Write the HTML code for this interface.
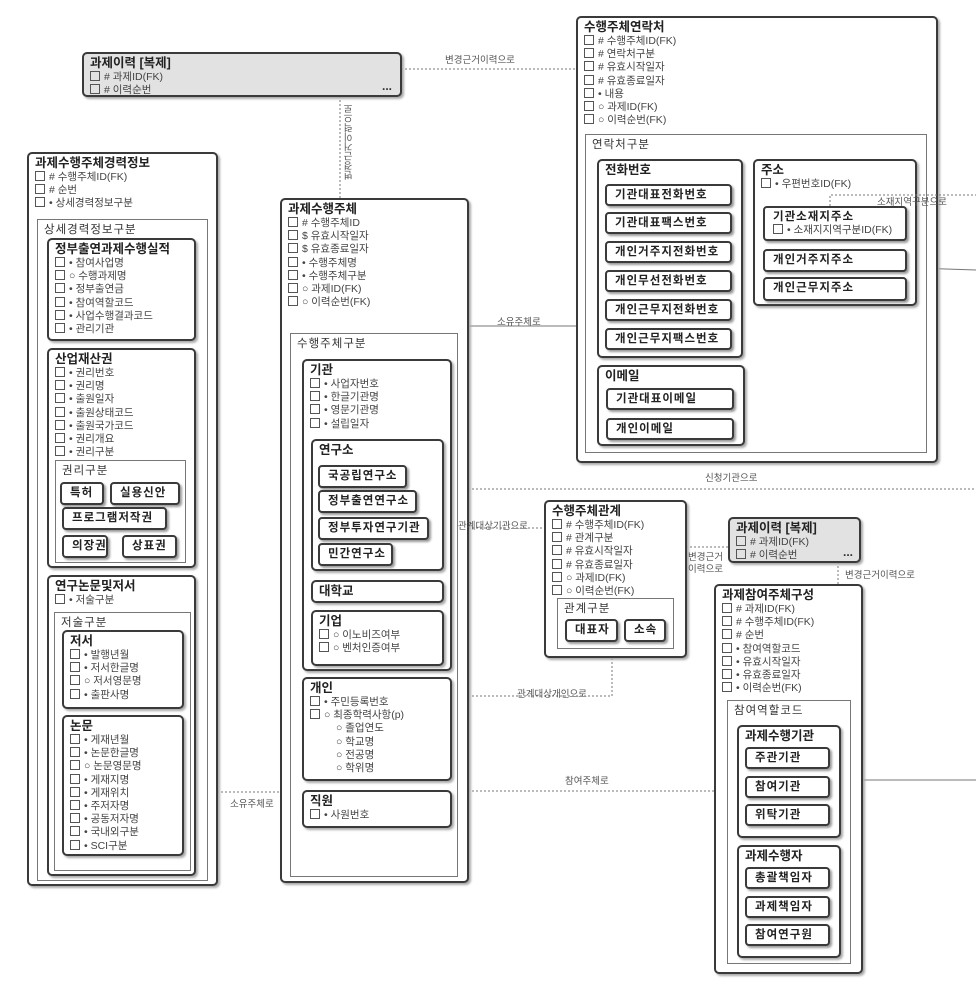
<!DOCTYPE html>
<html><head><meta charset="utf-8"><style>
body{margin:0;width:976px;height:1001px;background:#fff;position:relative;overflow:hidden;font-family:"Liberation Sans","Noto Sans CJK KR",sans-serif;color:#333}
.e{position:absolute;border:2px solid #3a3a3a;border-radius:5px;background:#fff;box-shadow:2px 2px 2px #aaa;box-sizing:border-box;padding:2px 6px}
.g{position:absolute;border:1px solid #777;box-sizing:border-box;padding:2px 6px;background:#fff}
.t{font-weight:bold;font-size:12.5px;line-height:15px;color:#222;white-space:nowrap}
.gt{font-size:11.5px;line-height:16px;color:#333;letter-spacing:1px;white-space:nowrap}
.i{font-size:10.5px;line-height:13.2px;color:#444;white-space:nowrap}
.i b{display:inline-block;width:8px;height:8px;border:1px solid #555;margin-right:4px;vertical-align:-1px;font-weight:normal}
.k{position:absolute;border:2px solid #3a3a3a;border-radius:4px;background:#fff;box-shadow:2px 2px 2px #999;box-sizing:border-box;font-weight:bold;font-size:11.5px;line-height:18px;padding-left:8px;letter-spacing:1px;color:#222;white-space:nowrap}
.gray{background:#e2e2e2}
.l{position:absolute;font-size:9.5px;color:#555;white-space:nowrap;z-index:5}
svg{position:absolute;left:0;top:0}
</style></head><body>
<svg width="976" height="1001">
<g stroke="#777" stroke-width="1" fill="none">
<line x1="401" y1="69" x2="576" y2="69" stroke-dasharray="2,2"/>
<line x1="340" y1="96" x2="340" y2="198" stroke-dasharray="2,2"/>
<line x1="468" y1="326" x2="576" y2="326"/>
<line x1="468" y1="489" x2="976" y2="489" stroke-dasharray="2,2"/>
<line x1="468" y1="528" x2="544" y2="528" stroke-dasharray="2,2"/>
<polyline points="468,696 612,696 612,657" stroke-dasharray="2,2"/>
<line x1="468" y1="791" x2="714" y2="791" stroke-dasharray="2,2"/>
<line x1="217" y1="792" x2="280" y2="792" stroke-dasharray="2,2"/>
<line x1="686" y1="547" x2="728" y2="547" stroke-dasharray="2,2"/>
<line x1="838" y1="562" x2="838" y2="584" stroke-dasharray="2,2"/>
<line x1="916" y1="268" x2="976" y2="270"/>
<line x1="862" y1="780" x2="976" y2="780"/>
</g></svg>
<svg width="976" height="1001" style="z-index:4"><g stroke="#777" fill="none"><polyline points="830,206 830,195 976,195" stroke-dasharray="2,2"/></g></svg>
<div class="l" style="left:445px;top:52px">변경근거이력으로</div>
<div class="l" style="left:343px;top:104px;writing-mode:vertical-rl;transform:rotate(180deg);background:#fff">변경근거이력으로</div>
<div class="l" style="left:497px;top:314px">소유주체로</div>
<div class="l" style="left:705px;top:470px">신청기관으로</div>
<div class="l" style="left:458px;top:518px">관계대상기관으로</div>
<div class="l" style="left:517px;top:686px">관계대상개인으로</div>
<div class="l" style="left:565px;top:773px">참여주체로</div>
<div class="l" style="left:230px;top:796px">소유주체로</div>
<div class="l" style="left:688px;top:552px;line-height:12px">변경근거<br>이력으로</div>
<div class="l" style="left:845px;top:567px">변경근거이력으로</div>
<div class="l" style="left:877px;top:194px">소재지역구분으로</div>

<div class="e gray" style="left:82px;top:52px;width:320px;height:45px"><div class="t">과제이력 [복제]</div><div class="i"><b></b># 과제ID(FK)</div><div class="i"><b></b># 이력순번</div><div style="position:absolute;right:8px;bottom:2px;font-weight:bold;font-size:12px">...</div></div>

<div class="e" style="left:27px;top:152px;width:191px;height:734px"><div class="t">과제수행주체경력정보</div><div class="i"><b></b># 수행주체ID(FK)</div><div class="i"><b></b># 순번</div><div class="i"><b></b>• 상세경력정보구분</div></div>
<div class="g" style="left:37px;top:219px;width:171px;height:662px"><div class="gt">상세경력정보구분</div></div>
<div class="e" style="left:47px;top:238px;width:149px;height:103px"><div class="t">정부출연과제수행실적</div><div class="i"><b></b>• 참여사업명</div><div class="i"><b></b>○ 수행과제명</div><div class="i"><b></b>• 정부출연금</div><div class="i"><b></b>• 참여역할코드</div><div class="i"><b></b>• 사업수행결과코드</div><div class="i"><b></b>• 관리기관</div></div>
<div class="e" style="left:47px;top:348px;width:149px;height:220px"><div class="t">산업재산권</div><div class="i"><b></b>• 권리번호</div><div class="i"><b></b>• 권리명</div><div class="i"><b></b>• 출원일자</div><div class="i"><b></b>• 출원상태코드</div><div class="i"><b></b>• 출원국가코드</div><div class="i"><b></b>• 권리개요</div><div class="i"><b></b>• 권리구분</div></div>
<div class="g" style="left:55px;top:460px;width:131px;height:103px"><div class="gt">권리구분</div></div>
<div class="k" style="left:60px;top:482px;width:44px;height:23px">특허</div>
<div class="k" style="left:110px;top:482px;width:70px;height:23px">실용신안</div>
<div class="k" style="left:62px;top:507px;width:105px;height:23px">프로그램저작권</div>
<div class="k" style="left:62px;top:535px;width:46px;height:23px">의장권</div>
<div class="k" style="left:122px;top:535px;width:55px;height:23px">상표권</div>
<div class="e" style="left:47px;top:575px;width:149px;height:301px"><div class="t">연구논문및저서</div><div class="i"><b></b>• 저술구분</div></div>
<div class="g" style="left:54px;top:612px;width:137px;height:259px"><div class="gt">저술구분</div></div>
<div class="e" style="left:62px;top:630px;width:122px;height:79px"><div class="t">저서</div><div class="i"><b></b>• 발행년월</div><div class="i"><b></b>• 저서한글명</div><div class="i"><b></b>○ 저서영문명</div><div class="i"><b></b>• 출판사명</div></div>
<div class="e" style="left:62px;top:715px;width:122px;height:141px"><div class="t">논문</div><div class="i"><b></b>• 게재년월</div><div class="i"><b></b>• 논문한글명</div><div class="i"><b></b>○ 논문영문명</div><div class="i"><b></b>• 게재지명</div><div class="i"><b></b>• 게재위치</div><div class="i"><b></b>• 주저자명</div><div class="i"><b></b>• 공동저자명</div><div class="i"><b></b>• 국내외구분</div><div class="i"><b></b>• SCI구분</div></div>

<div class="e" style="left:280px;top:198px;width:189px;height:685px"><div class="t">과제수행주체</div><div class="i"><b></b># 수행주체ID</div><div class="i"><b></b>$ 유효시작일자</div><div class="i"><b></b>$ 유효종료일자</div><div class="i"><b></b>• 수행주체명</div><div class="i"><b></b>• 수행주체구분</div><div class="i"><b></b>○ 과제ID(FK)</div><div class="i"><b></b>○ 이력순번(FK)</div></div>
<div class="g" style="left:290px;top:333px;width:168px;height:544px"><div class="gt">수행주체구분</div></div>
<div class="e" style="left:302px;top:359px;width:150px;height:312px"><div class="t">기관</div><div class="i"><b></b>• 사업자번호</div><div class="i"><b></b>• 한글기관명</div><div class="i"><b></b>• 영문기관명</div><div class="i"><b></b>• 설립일자</div></div>
<div class="e" style="left:311px;top:439px;width:133px;height:132px"><div class="t">연구소</div></div>
<div class="k" style="left:318px;top:465px;width:89px;height:23px">국공립연구소</div>
<div class="k" style="left:318px;top:490px;width:99px;height:23px">정부출연연구소</div>
<div class="k" style="left:318px;top:517px;width:111px;height:23px">정부투자연구기관</div>
<div class="k" style="left:318px;top:543px;width:75px;height:23px">민간연구소</div>
<div class="e" style="left:311px;top:580px;width:133px;height:23px"><div class="t">대학교</div></div>
<div class="e" style="left:311px;top:610px;width:133px;height:56px"><div class="t">기업</div><div class="i"><b></b>○ 이노비즈여부</div><div class="i"><b></b>○ 벤처인증여부</div></div>
<div class="e" style="left:302px;top:677px;width:150px;height:104px"><div class="t">개인</div><div class="i"><b></b>• 주민등록번호</div><div class="i"><b></b>○ 최종학력사항(p)</div><div class="i" style="padding-left:26px">○ 졸업연도</div><div class="i" style="padding-left:26px">○ 학교명</div><div class="i" style="padding-left:26px">○ 전공명</div><div class="i" style="padding-left:26px">○ 학위명</div></div>
<div class="e" style="left:302px;top:790px;width:150px;height:38px"><div class="t">직원</div><div class="i"><b></b>• 사원번호</div></div>

<div class="e" style="left:576px;top:16px;width:362px;height:447px"><div class="t">수행주체연락처</div><div class="i"><b></b># 수행주체ID(FK)</div><div class="i"><b></b># 연락처구분</div><div class="i"><b></b># 유효시작일자</div><div class="i"><b></b># 유효종료일자</div><div class="i"><b></b>• 내용</div><div class="i"><b></b>○ 과제ID(FK)</div><div class="i"><b></b>○ 이력순번(FK)</div></div>
<div class="g" style="left:585px;top:134px;width:342px;height:319px"><div class="gt">연락처구분</div></div>
<div class="e" style="left:597px;top:159px;width:146px;height:199px"><div class="t">전화번호</div></div>
<div class="k" style="left:605px;top:184px;width:127px;height:22px">기관대표전화번호</div>
<div class="k" style="left:605px;top:212px;width:127px;height:22px">기관대표팩스번호</div>
<div class="k" style="left:605px;top:241px;width:127px;height:22px">개인거주지전화번호</div>
<div class="k" style="left:605px;top:270px;width:127px;height:22px">개인무선전화번호</div>
<div class="k" style="left:605px;top:299px;width:127px;height:22px">개인근무지전화번호</div>
<div class="k" style="left:605px;top:328px;width:127px;height:22px">개인근무지팩스번호</div>
<div class="e" style="left:597px;top:365px;width:148px;height:81px"><div class="t">이메일</div></div>
<div class="k" style="left:606px;top:388px;width:128px;height:22px">기관대표이메일</div>
<div class="k" style="left:606px;top:418px;width:128px;height:22px">개인이메일</div>
<div class="e" style="left:753px;top:159px;width:164px;height:147px"><div class="t">주소</div><div class="i"><b></b>• 우편번호ID(FK)</div></div>
<div class="k" style="left:763px;top:206px;width:144px;height:35px;line-height:14px;padding-top:2px">기관소재지주소<div class="i" style="font-weight:normal;letter-spacing:0"><b></b>• 소재지지역구분ID(FK)</div></div>
<div class="k" style="left:763px;top:249px;width:144px;height:23px">개인거주지주소</div>
<div class="k" style="left:763px;top:277px;width:144px;height:24px">개인근무지주소</div>

<div class="e" style="left:544px;top:500px;width:143px;height:158px"><div class="t">수행주체관계</div><div class="i"><b></b># 수행주체ID(FK)</div><div class="i"><b></b># 관계구분</div><div class="i"><b></b># 유효시작일자</div><div class="i"><b></b># 유효종료일자</div><div class="i"><b></b>○ 과제ID(FK)</div><div class="i"><b></b>○ 이력순번(FK)</div></div>
<div class="g" style="left:557px;top:598px;width:117px;height:51px"><div class="gt">관계구분</div></div>
<div class="k" style="left:565px;top:619px;width:53px;height:23px">대표자</div>
<div class="k" style="left:624px;top:619px;width:42px;height:23px">소속</div>

<div class="e gray" style="left:728px;top:517px;width:133px;height:46px"><div class="t">과제이력 [복제]</div><div class="i"><b></b># 과제ID(FK)</div><div class="i"><b></b># 이력순번</div><div style="position:absolute;right:6px;bottom:2px;font-weight:bold;font-size:12px">...</div></div>

<div class="e" style="left:714px;top:584px;width:149px;height:390px"><div class="t">과제참여주체구성</div><div class="i"><b></b># 과제ID(FK)</div><div class="i"><b></b># 수행주체ID(FK)</div><div class="i"><b></b># 순번</div><div class="i"><b></b>• 참여역할코드</div><div class="i"><b></b>• 유효시작일자</div><div class="i"><b></b>• 유효종료일자</div><div class="i"><b></b>• 이력순번(FK)</div></div>
<div class="g" style="left:727px;top:700px;width:124px;height:264px"><div class="gt">참여역할코드</div></div>
<div class="e" style="left:737px;top:725px;width:104px;height:113px"><div class="t">과제수행기관</div></div>
<div class="k" style="left:745px;top:747px;width:85px;height:22px">주관기관</div>
<div class="k" style="left:745px;top:776px;width:85px;height:22px">참여기관</div>
<div class="k" style="left:745px;top:804px;width:85px;height:22px">위탁기관</div>
<div class="e" style="left:737px;top:845px;width:104px;height:113px"><div class="t">과제수행자</div></div>
<div class="k" style="left:745px;top:867px;width:85px;height:22px">총괄책임자</div>
<div class="k" style="left:745px;top:896px;width:85px;height:22px">과제책임자</div>
<div class="k" style="left:745px;top:924px;width:85px;height:22px">참여연구원</div>
</body></html>
